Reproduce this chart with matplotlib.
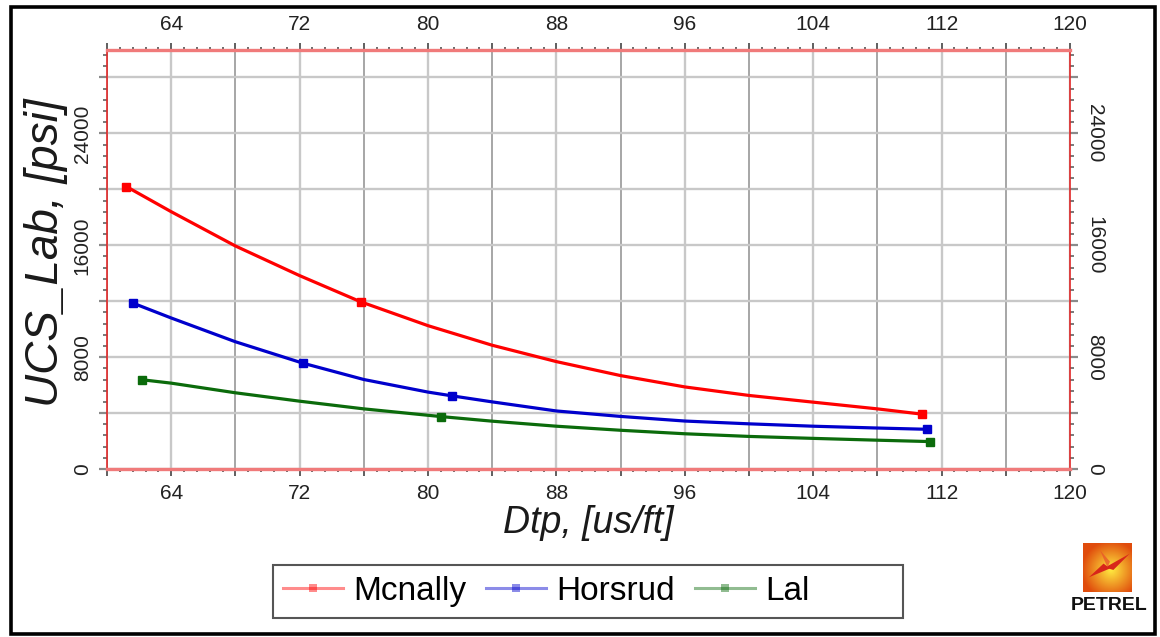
import numpy as np
import matplotlib
matplotlib.use('Agg')
import matplotlib.pyplot as plt
from matplotlib.lines import Line2D
from matplotlib.patches import Rectangle, Polygon
from matplotlib.ticker import FixedLocator, FixedFormatter, MultipleLocator

plt.rcParams['font.family'] = ['Liberation Sans', 'DejaVu Sans']

# ---------------- data ----------------
mcnally_dtp = [61.2, 64, 68, 72, 75.8, 80, 84, 88, 92, 96, 100, 104, 108, 110.8]
mcnally_ucs = [20200, 18400, 15950, 13830, 11960, 10250, 8850, 7680, 6680, 5870, 5260, 4780, 4300, 3920]
mcnally_marks = [0, 4, 13]

horsrud_dtp = [61.6, 64, 68, 72.2, 76, 80, 81.5, 84, 88, 92, 96, 100, 104, 108, 111.1]
horsrud_ucs = [11870, 10800, 9100, 7570, 6400, 5500, 5230, 4800, 4150, 3760, 3430, 3230, 3060, 2930, 2840]
horsrud_marks = [0, 3, 6, 14]

lal_dtp = [62.2, 64, 68, 72, 76, 80.8, 84, 88, 92, 96, 100, 104, 108, 111.3]
lal_ucs = [6380, 6140, 5450, 4850, 4300, 3750, 3420, 3060, 2770, 2520, 2330, 2190, 2060, 1960]
lal_marks = [0, 5, 13]

series_names = ['Mcnally', 'Horsrud', 'Lal']
series_colors = ['#ff0000', '#0000cc', '#0b6b0b']

x_tick_values = [60, 64, 68, 72, 76, 80, 84, 88, 92, 96, 100, 104, 108, 112, 116, 120]
x_tick_labels = ['', '64', '', '72', '', '80', '', '88', '', '96', '', '104', '', '112', '', '120']
y_tick_values = [0, 4000, 8000, 12000, 16000, 20000, 24000, 28000]
y_tick_labels = ['0', '', '8000', '', '16000', '', '24000', '']

x_label = 'Dtp, [us/ft]'
y_label = 'UCS_Lab, [psi]'

# ---------------- figure ----------------
W, H = 1160, 637
fig = plt.figure(figsize=(W / 100, H / 100), dpi=100)
fig.patch.set_facecolor('white')

ax_l, ax_r, ax_t, ax_b = 107, 1070, 49.5, 469
ax = fig.add_axes([ax_l / W, 1 - ax_b / H, (ax_r - ax_l) / W, (ax_b - ax_t) / H])

ax.set_xlim(60, 120)
ax.set_ylim(0, 30000)

data = [(mcnally_dtp, mcnally_ucs, mcnally_marks),
        (horsrud_dtp, horsrud_ucs, horsrud_marks),
        (lal_dtp, lal_ucs, lal_marks)]
for (xs, ys, mk), name, col in zip(data, series_names, series_colors):
    ax.plot(xs, ys, color=col, lw=2.3, marker='s', ms=5.5, markevery=mk,
            mfc=col, mec=col, label=name, zorder=3, solid_joinstyle='round')

# ticks
ax.xaxis.set_major_locator(FixedLocator(x_tick_values))
ax.xaxis.set_major_formatter(FixedFormatter(x_tick_labels))
ax.xaxis.set_minor_locator(MultipleLocator(0.8))
ax.yaxis.set_major_locator(FixedLocator(y_tick_values))
ax.yaxis.set_major_formatter(FixedFormatter(y_tick_labels))
ax.yaxis.set_minor_locator(MultipleLocator(800))

ax.tick_params(axis='x', which='major', direction='out', length=5, width=1.2,
               color='#444444', top=True, bottom=True, labeltop=True,
               labelbottom=True, labelsize=15, pad=6, labelcolor='#222222')
ax.tick_params(axis='x', which='minor', direction='out', length=2.2, width=1.1,
               color='#444444', top=True, bottom=True)
ax.tick_params(axis='y', which='major', direction='out', length=6, width=1.6,
               color='#8a8a8a', left=True, right=True, labelleft=True,
               labelright=True, labelsize=15, pad=5, labelcolor='#222222')
ax.tick_params(axis='y', which='minor', direction='out', length=3.2, width=1.1,
               color='#555555', left=True, right=True)

for t in ax.yaxis.get_major_ticks():
    t.label1.set_rotation(90)
    t.label1.set_va('center')
    t.label2.set_rotation(270)
    t.label2.set_va('center')

# grid
ax.set_axisbelow(True)
ax.grid(True, which='major', color='#c8c8c8', lw=1.7)
for gl, lab in zip(ax.get_xgridlines(), x_tick_labels):
    if lab == '':
        gl.set_color('#8e8e8e')
        gl.set_linewidth(1.1)

# spines
for s in ['left', 'right']:
    ax.spines[s].set_color('#e02828')
    ax.spines[s].set_linewidth(1.2)
for s in ['top', 'bottom']:
    ax.spines[s].set_color('#f07a7a')
    ax.spines[s].set_linewidth(2.4)

# axis labels
ax.set_xlabel(x_label, fontsize=27, style='italic', color='#1a1a1a')
ax.xaxis.set_label_coords(0.5, -0.085)
ax.set_ylabel(y_label, fontsize=33, style='italic', color='#1a1a1a')
ax.yaxis.set_label_coords(-0.04, 0.515)

# legend (frame drawn separately as in the reference)
handles = []
for name, col in zip(series_names, series_colors):
    handles.append(Line2D([], [], color=col, lw=2.2, marker='s',
                          ms=6, mfc=col, mec=col, markeredgewidth=0))
leg = fig.legend(handles, series_names, loc='center left',
                 bbox_to_anchor=(283 / W, 1 - 591.5 / H), ncol=3, frameon=False,
                 fontsize=24, handlelength=1.8, handletextpad=0.3,
                 columnspacing=0.6, borderpad=0, borderaxespad=0)
for h, col in zip(leg.legend_handles, series_colors):
    h.set_color(col)
    h.set_alpha(0.45)
fig.patches.append(Rectangle((273 / W, 1 - 618 / H), 630 / W, 53 / H,
                             transform=fig.transFigure, fill=False,
                             edgecolor='#555555', lw=1.5, zorder=5))

# Petrel logo
lax = fig.add_axes([1083 / W, 1 - 592 / H, 49 / W, 49 / H])
gx, gy = np.meshgrid(np.linspace(-1, 1, 60), np.linspace(-1, 1, 60))
r = np.clip(np.sqrt((gx - 0.15) ** 2 + (gy + 0.1) ** 2) / 1.2, 0, 1)
c0 = np.array([1.0, 0.92, 0.25])
c1 = np.array([0.88, 0.30, 0.05])
img = c0[None, None, :] * (1 - r[..., None]) + c1[None, None, :] * r[..., None]
lax.imshow(img, extent=(0, 1, 0, 1), origin='lower', aspect='auto')
lax.add_patch(Polygon([(0.45, 0.5), (0.95, 0.78), (0.62, 0.45)],
                      closed=True, color='#d8261a', lw=0))
lax.add_patch(Polygon([(0.55, 0.48), (0.12, 0.3), (0.42, 0.58)],
                      closed=True, color='#d8261a', lw=0))
lax.add_patch(Polygon([(0.35, 0.85), (0.5, 0.5), (0.55, 0.62)],
                      closed=True, color='#e8502a', lw=0, alpha=0.7))
lax.set_xlim(0, 1)
lax.set_ylim(0, 1)
lax.axis('off')
fig.text(1109 / W, 1 - 605.5 / H, 'PETREL', ha='center', va='center',
         fontsize=14, fontweight='bold', color='#111111')

# outer black frame
fig.patches.append(Rectangle((10.5 / W, 1 - 633.5 / H), 1144 / W, 627 / H,
                             transform=fig.transFigure, fill=False,
                             edgecolor='black', lw=2.6, zorder=10))

fig.savefig('out.png', dpi=100, facecolor='white')
